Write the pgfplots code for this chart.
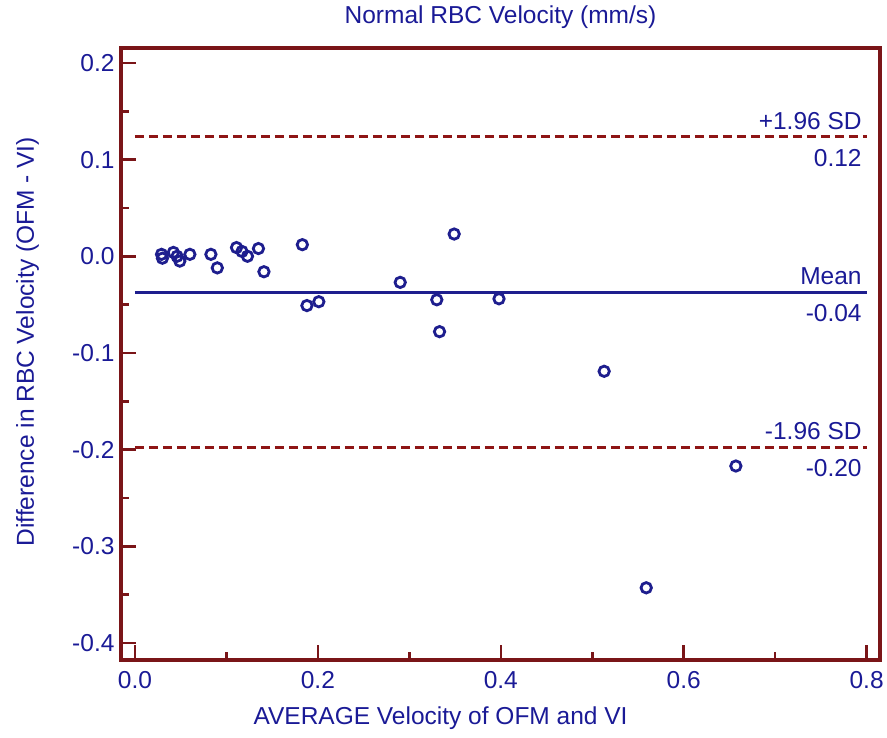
\documentclass[border=0pt]{standalone}
\usepackage{fontspec}
\setmainfont{Liberation Sans}
\usepackage{pgfplots}
\pgfplotsset{compat=1.18}
\definecolor{frame}{HTML}{7A1518}
\definecolor{dred}{HTML}{8E1515}
\definecolor{navy}{HTML}{1E1E8E}
\definecolor{txt}{HTML}{1A1A96}
\begin{document}
\begin{tikzpicture}[font=\fontsize{24.5}{29}\selectfont]
\begin{axis}[
  name=ax,
  scale only axis,
  width=759pt, height=612pt,
  xmin=-0.0153, xmax=0.8146,
  ymin=-0.4177, ymax=0.2155,
  axis line style={frame, line width=3.2pt},
  tick style={frame, line width=2.6pt},
  tick align=inside,
  tick pos=left,
  major tick length=15pt,
  minor tick length=8pt,
  xtick={0,0.2,0.4,0.6,0.8},
  xticklabels={0.0,0.2,0.4,0.6,0.8},
  minor xtick={0.1,0.3,0.5,0.7},
  ytick={-0.4,-0.3,-0.2,-0.1,0,0.1,0.2},
  yticklabels={-0.4,-0.3,-0.2,-0.1,0.0,0.1,0.2},
  minor ytick={-0.35,-0.25,-0.15,-0.05,0.05,0.15},
  ticklabel style={text=txt},
  xticklabel style={yshift=-8pt},
  yticklabel style={xshift=-3pt},
  title={Normal RBC Velocity (mm/s)},
  title style={text=txt, at={(axis description cs:0.5,1.041)}, anchor=center},
  xlabel={AVERAGE Velocity of OFM and VI},
  xlabel style={text=txt, at={(axis description cs:0.421,-0.0946)}, anchor=center},
  ylabel={Difference in RBC Velocity (OFM - VI)},
  ylabel style={text=txt, at={(axis description cs:-0.123,0.52)}, anchor=center},
  clip=false,
]
\addplot[dred, line width=3.2pt, dash pattern=on 9pt off 5pt] coordinates {(0,0.1236) (0.8,0.1236)};
\addplot[dred, line width=3.2pt, dash pattern=on 9pt off 5pt] coordinates {(0,-0.1975) (0.8,-0.1975)};
\addplot[navy, line width=3pt] coordinates {(0,-0.0374) (0.8,-0.0374)};
\addplot[only marks, mark=o, mark size=5.2pt, navy, mark options={line width=2.8pt}] coordinates {
(0.029,0.002) (0.030,-0.002) (0.042,0.004) (0.046,0.000) (0.049,-0.005)
(0.060,0.002) (0.083,0.002) (0.090,-0.012) (0.111,0.009) (0.117,0.005)
(0.123,0.000) (0.135,0.008) (0.141,-0.016) (0.183,0.012) (0.188,-0.051)
(0.201,-0.047) (0.290,-0.027) (0.330,-0.045) (0.333,-0.078) (0.349,0.023)
(0.398,-0.044) (0.513,-0.119) (0.559,-0.343) (0.657,-0.217)
};
\node[txt, anchor=south east, inner sep=3pt, yshift=4pt] at (axis cs:0.798,0.1236) {+1.96 SD};
\node[txt, anchor=north east, inner sep=3pt, yshift=-9pt] at (axis cs:0.798,0.1236) {0.12};
\node[txt, anchor=south east, inner sep=3pt, yshift=4pt] at (axis cs:0.798,-0.0374) {Mean};
\node[txt, anchor=north east, inner sep=3pt, yshift=-9pt] at (axis cs:0.798,-0.0374) {-0.04};
\node[txt, anchor=south east, inner sep=3pt, yshift=4pt] at (axis cs:0.798,-0.1975) {-1.96 SD};
\node[txt, anchor=north east, inner sep=3pt, yshift=-9pt] at (axis cs:0.798,-0.1975) {-0.20};
\end{axis}
\pgfresetboundingbox
\path[use as bounding box] (ax.south west) ++(-121pt,-78pt) rectangle ++(887pt,738pt);
\end{tikzpicture}
\end{document}
